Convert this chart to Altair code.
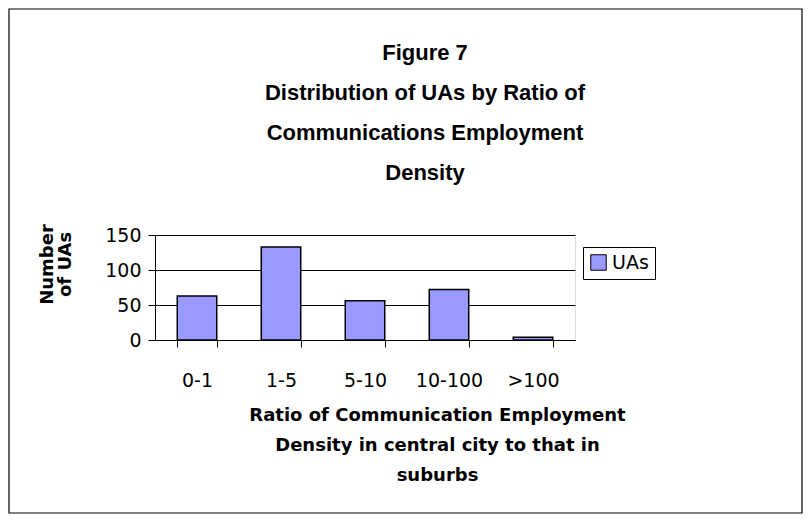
import altair as alt
import pandas as pd

categories = ["0-1", "1-5", "5-10", "10-100", ">100"]
values = [63, 133, 56, 72, 4]
series_name = ["UAs"] * 5
title_lines = ["Figure 7", "Distribution of UAs by Ratio of",
               "Communications Employment", "Density"]
x_title_lines = ["Ratio of Communication Employment",
                 "Density in central city to that in", "suburbs"]
y_title_lines = ["Number", "of UAs"]
y_ticks = [0, 50, 100, 150]

df = pd.DataFrame({"cat": categories, "val": values, "series": series_name})
FONT = "Liberation Sans"
FONT2 = "DejaVu Sans"

W, H = 420, 105
PL, PT = 147, 227
PR, PB = 795 - PL - W, 506 - PT - H

bars = alt.Chart(df).mark_bar(stroke="black", strokeWidth=1.5).encode(
    x=alt.X("cat:N", sort=categories,
            scale=alt.Scale(paddingInner=0.53, paddingOuter=0.265),
            axis=alt.Axis(title=x_title_lines, labelAngle=0, labelFontSize=19,
                          labelFont=FONT2, labelColor="black", labelPadding=24,
                          tickBand="extent", ticks=True, tickSize=7,
                          tickColor="black", domainColor="black",
                          titleFont=FONT2, titleFontSize=18, titleFontWeight="bold",
                          titleColor="black", titleLineHeight=30,
                          titlePadding=16, titleX=282, titleAnchor="middle",
                          titleAlign="center")),
    y=alt.Y("val:Q", scale=alt.Scale(domain=[0, 150]),
            axis=alt.Axis(values=y_ticks, title=y_title_lines, labelFontSize=19,
                          labelFont=FONT2, labelColor="black", labelPadding=7,
                          tickSize=7, tickColor="black", domainColor="black",
                          grid=True, gridColor="black", gridWidth=1,
                          titleFont=FONT2, titleFontSize=18, titleFontWeight="bold",
                          titleColor="black", titleLineHeight=18,
                          titleX=-108, titleY=29, titleAngle=270,
                          titleAlign="center", titleBaseline="middle")),
    color=alt.Color("series:N",
                    scale=alt.Scale(domain=["UAs"], range=["#9999FF"]),
                    legend=alt.Legend(title=None, orient="none",
                                      legendX=428, legendY=12,
                                      symbolType="square", symbolSize=240,
                                      symbolStrokeColor="black",
                                      symbolStrokeWidth=1,
                                      labelFont=FONT2, labelFontSize=19,
                                      labelColor="black",
                                      strokeColor="black", padding=6,
                                      fillColor="white")),
)

one = pd.DataFrame({"k": [1]})
frame = alt.Chart(one).mark_rect(
    fill=None, stroke="black", strokeWidth=1.2, clip=False
).encode(
    x=alt.value(-PL + 1), x2=alt.value(W + PR - 1),
    y=alt.value(-PT + 1), y2=alt.value(H + PB - 1),
)

title = alt.Chart(one).mark_text(
    text="\n".join(title_lines), lineBreak="\n", lineHeight=40,
    font=FONT, fontSize=22, fontWeight="bold", color="black",
    align="center", baseline="alphabetic", clip=False
).encode(x=alt.value(270), y=alt.value(-175))

chart = alt.layer(frame, bars, title).properties(
    width=W, height=H,
    padding={"left": PL, "top": PT, "right": PR, "bottom": PB},
    autosize=alt.AutoSizeParams(type="none"),
).configure_view(fill="#C0C0C0", stroke="#808080", strokeWidth=1.5
).configure(background="white")

chart.save("out.html", embed_options={"renderer": "svg", "actions": False})
